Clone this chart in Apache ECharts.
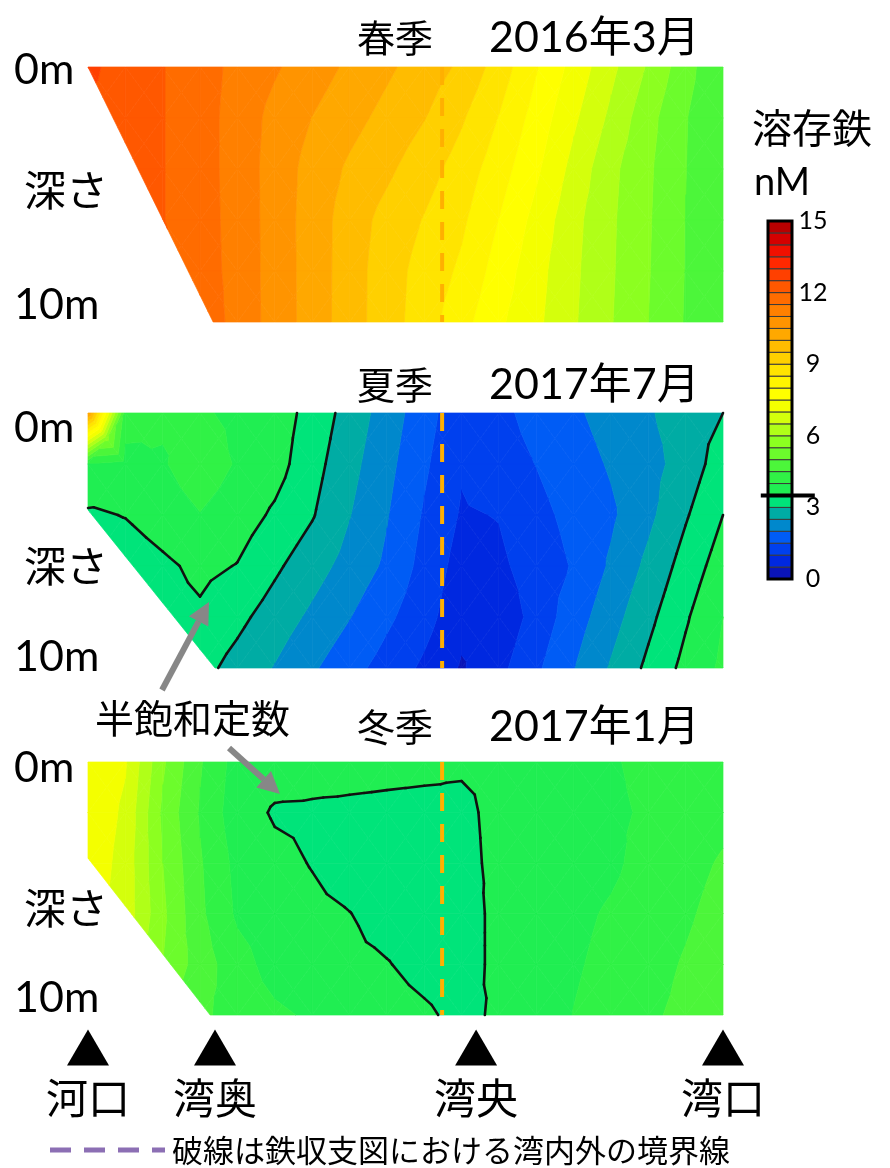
<!DOCTYPE html>
<html lang="ja">
<head>
<meta charset="utf-8">
<title>溶存鉄の鉛直断面</title>
<script src="https://cdn.jsdelivr.net/npm/echarts@6.0.0/dist/echarts.min.js"></script>
<style>
  html, body { margin: 0; padding: 0; background: #fff; }
  #chart { width: 890px; height: 1168px; }
</style>
</head>
<body>
<div id="chart"></div>
<script>
// Along-bay grid positions (河口 = 0 … 湾口 = 17) and sampling depths in metres
const distance = [0, 1, 2, 3, 4, 5, 6, 7, 8, 9, 10, 11, 12, 13, 14, 15, 16, 17];
const depth = [0, 2, 4, 6, 8, 10];

// Dissolved iron (nM), one row per depth, one value per grid position
const springFe = [
  [12.6, 12.31, 12.02, 11.69, 11.38, 11.06, 10.74, 10.41, 10.09, 9.77, 9.41, 8.77, 8.04, 7.33, 6.63, 5.94, 5.2, 4.5],
  [12.4, 12.34, 12.02, 11.7, 11.31, 10.84, 10.49, 10.17, 9.85, 9.52, 9.06, 8.48, 7.8, 7.09, 6.39, 5.67, 5.03, 4.5],
  [12.4, 12.35, 12.02, 11.7, 11.31, 10.78, 10.32, 9.92, 9.6, 9.21, 8.78, 8.23, 7.59, 6.84, 6.13, 5.58, 5.01, 4.5],
  [12.4, 12.35, 12.02, 11.7, 11.33, 10.78, 10.28, 9.76, 9.33, 8.97, 8.59, 7.99, 7.34, 6.65, 6.08, 5.55, 4.99, 4.5],
  [12.4, 12.35, 12.2, 11.72, 11.34, 10.78, 10.29, 9.74, 9.23, 8.81, 8.41, 7.78, 7.18, 6.6, 6.06, 5.53, 4.98, 4.5],
  [12.4, 12.35, 12.2, 11.8, 11.35, 10.79, 10.29, 9.73, 9.23, 8.74, 8.18, 7.59, 7.11, 6.56, 6.03, 5.5, 4.96, 4.5]
];
const summerFe = [
  [10.5, 4.3, 4.08, 4.06, 3.9, 3.75, 3.33, 2.8, 2.27, 1.71, 1.15, 1.39, 1.65, 1.92, 2.19, 2.45, 2.73, 3.0],
  [4.0, 3.8, 3.95, 4.3, 3.95, 3.7, 3.19, 2.66, 2.15, 1.58, 1.05, 1.3, 1.51, 1.78, 2.05, 2.32, 2.71, 3.26],
  [3.42, 3.52, 3.75, 3.98, 3.75, 3.42, 3.04, 2.52, 2.03, 1.45, 0.95, 1.02, 1.36, 1.64, 1.92, 2.38, 2.95, 3.5],
  [3.2, 3.2, 3.4, 3.62, 3.48, 3.09, 2.71, 2.32, 1.91, 1.33, 0.8, 0.9, 1.23, 1.54, 2.07, 2.62, 3.2, 3.75],
  [3.2, 3.2, 3.3, 3.42, 3.13, 2.77, 2.4, 2.02, 1.6, 1.19, 0.65, 0.63, 1.19, 1.76, 2.3, 2.87, 3.44, 4.0],
  [3.2, 3.2, 3.25, 3.17, 2.82, 2.47, 2.07, 1.68, 1.3, 0.91, 0.45, 0.86, 1.41, 1.98, 2.55, 3.11, 3.64, 4.1]
];
const winterFe = [
  [7.4, 7.05, 5.58, 4.55, 3.78, 3.7, 3.65, 3.62, 3.6, 3.58, 3.55, 3.57, 3.65, 3.78, 3.96, 4.1, 4.2, 4.35],
  [7.4, 6.9, 5.4, 4.45, 3.7, 3.453, 3.445, 3.435, 3.42, 3.41, 3.417, 3.6, 3.66, 3.75, 3.93, 4.05, 4.15, 4.35],
  [7.35, 6.8, 5.5, 4.55, 3.85, 3.62, 3.48, 3.3, 3.24, 3.22, 3.38, 3.6, 3.7, 3.8, 3.92, 4.15, 4.32, 4.56],
  [7.2, 6.8, 5.6, 4.6, 3.92, 3.72, 3.6, 3.51, 3.35, 3.28, 3.3, 3.62, 3.78, 3.9, 4.05, 4.2, 4.42, 4.7],
  [7.0, 6.5, 5.5, 4.75, 4.2, 3.8, 3.65, 3.58, 3.52, 3.38, 3.3, 3.62, 3.82, 3.95, 4.12, 4.3, 4.55, 4.8],
  [6.8, 6.0, 5.0, 4.6, 4.3, 4.09, 3.93, 3.8, 3.65, 3.56, 3.4, 3.56, 3.75, 4.01, 4.18, 4.42, 4.62, 4.85]
];

// Water-column outline of each section: [distance, depth] corners
const springSection = [[0, 0], [17, 0], [17, 10], [3.35, 10]];
const summerSection = [[0, 0], [17, 0], [17, 10], [3.4, 10], [0, 3.8]];
const winterSection = [[0, 0], [17, 0], [17, 10], [3.27, 10], [0, 3.8]];

const seasonTitles = ['春季', '夏季', '冬季'];
const seasonDates = ['2016年3月', '2017年7月', '2017年1月'];

const stationNames = ['河口', '湾奥', '湾央', '湾口'];
const stationPos = [0, 3.4, 10.39, 17];

// Inner/outer bay boundary used in the iron budget
const boundaryPos = 9.48;

// Colour classes, 0.5 nM wide
const bandEdges = [0, 0.5, 1, 1.5, 2, 2.5, 3, 3.5, 4, 4.5, 5, 5.5, 6, 6.5, 7, 7.5,
  8, 8.5, 9, 9.5, 10, 10.5, 11, 11.5, 12, 12.5, 13, 13.5, 14, 14.5, 15];
const bandColors = ['#0a14b8', '#0028e0', '#0040ee', '#005cf5', '#0088cc', '#00aca4',
  '#00e47a', '#20ee52', '#30f246', '#4cf63a', '#6cfc2c', '#8cff20', '#b0ff18', '#d4ff0c',
  '#f4ff00', '#ffff00', '#fff400', '#ffe400', '#ffd000', '#ffbc00', '#ffa800', '#ff9400',
  '#ff8000', '#ff6c00', '#ff5800', '#ff4000', '#ff2800', '#f01000', '#d40000', '#b80000'];
const colorbarTicks = [0, 3, 6, 9, 12, 15];

// Half-saturation contours (nM)
const halfSatLines = [3.0, 3.5];

const FONT = 'Lato, "Noto Sans CJK JP", sans-serif';
const JP = '"Noto Sans CJK JP", sans-serif';

// ---- contouring helpers (linear interpolation on triangles) ----
function clipPoly(poly, f) {
  const out = [];
  for (let i = 0; i < poly.length; i++) {
    const a = poly[i], b = poly[(i + 1) % poly.length];
    const fa = f(a), fb = f(b);
    if (fa >= 0) out.push(a);
    if ((fa >= 0) !== (fb >= 0)) {
      const t = fa / (fa - fb);
      out.push({ x: a.x + t * (b.x - a.x), y: a.y + t * (b.y - a.y), v: a.v + t * (b.v - a.v) });
    }
  }
  return out;
}
function polyArea(p) {
  let s = 0;
  for (let i = 0; i < p.length; i++) {
    const a = p[i], b = p[(i + 1) % p.length];
    s += a.x * b.y - b.x * a.y;
  }
  return s / 2;
}
function halfPlanes(outline) {
  let s = 0;
  for (let i = 0; i < outline.length; i++) {
    const a = outline[i], b = outline[(i + 1) % outline.length];
    s += a[0] * b[1] - b[0] * a[1];
  }
  const sign = s > 0 ? 1 : -1;
  return outline.map((P, n) => {
    const Q = outline[(n + 1) % outline.length];
    return p => sign * ((Q[0] - P[0]) * (p.y - P[1]) - (Q[1] - P[1]) * (p.x - P[0]));
  });
}

function buildSection(field, outline, api) {
  const planes = halfPlanes(outline);
  const fills = [], strokes = [];
  const px = p => api.coord([p.x, p.y]);
  for (let j = 0; j < depth.length - 1; j++) {
    for (let i = 0; i < distance.length - 1; i++) {
      const A = { x: distance[i], y: depth[j], v: field[j][i] };
      const B = { x: distance[i + 1], y: depth[j], v: field[j][i + 1] };
      const C = { x: distance[i + 1], y: depth[j + 1], v: field[j + 1][i + 1] };
      const D = { x: distance[i], y: depth[j + 1], v: field[j + 1][i] };
      const M = { x: (A.x + B.x) / 2, y: (A.y + D.y) / 2, v: (A.v + B.v + C.v + D.v) / 4 };
      [[A, B, M], [B, C, M], [C, D, M], [D, A, M]].forEach(tri => {
        let P = tri;
        for (const f of planes) { if (P.length >= 3) P = clipPoly(P, f); }
        if (P.length < 3 || Math.abs(polyArea(P)) < 1e-9) return;
        let lo = Infinity, hi = -Infinity;
        P.forEach(p => { lo = Math.min(lo, p.v); hi = Math.max(hi, p.v); });
        for (let k = 0; k < bandColors.length; k++) {
          const a = bandEdges[k], b = bandEdges[k + 1];
          if (b <= lo || a >= hi) {
            if (!(lo === hi && lo >= a && lo < b)) continue;
          }
          let Q = clipPoly(P, p => p.v - a);
          if (Q.length >= 3) Q = clipPoly(Q, p => b - p.v);
          if (Q.length < 3 || Math.abs(polyArea(Q)) < 1e-9) continue;
          fills.push({
            type: 'polygon', silent: true,
            shape: { points: Q.map(px) },
            style: { fill: bandColors[k], stroke: bandColors[k], lineWidth: 0.7 }
          });
        }
        halfSatLines.forEach(L => {
          if (L <= lo || L >= hi) return;
          const pts = [];
          for (let n = 0; n < P.length; n++) {
            const a = P[n], b = P[(n + 1) % P.length];
            const fa = a.v - L, fb = b.v - L;
            if ((fa >= 0) !== (fb >= 0)) {
              const t = fa / (fa - fb);
              pts.push(px({ x: a.x + t * (b.x - a.x), y: a.y + t * (b.y - a.y) }));
            }
          }
          if (pts.length === 2) {
            strokes.push({
              type: 'line', silent: true,
              shape: { x1: pts[0][0], y1: pts[0][1], x2: pts[1][0], y2: pts[1][1] },
              style: { stroke: '#111', lineWidth: 2.6, lineCap: 'round' }
            });
          }
        });
      });
    }
  }
  return fills.concat(strokes);
}

// ---- layout ----
const panelTop = [67, 413, 762];
const panelHeight = [255, 255, 253];
const sections = [
  { field: springFe, outline: springSection },
  { field: summerFe, outline: summerSection },
  { field: winterFe, outline: winterSection }
];

const grids = [], xAxes = [], yAxes = [], series = [];
sections.forEach((s, k) => {
  grids.push({ left: 88, top: panelTop[k], width: 635, height: panelHeight[k] });
  xAxes.push({ gridIndex: k, type: 'value', min: 0, max: 17, show: false });
  yAxes.push({ gridIndex: k, type: 'value', min: 0, max: 10, inverse: true, show: false });
  series.push({
    type: 'custom', xAxisIndex: k, yAxisIndex: k, data: [[0, 0]], clip: false, silent: true, z: 2,
    renderItem: (params, api) => ({ type: 'group', children: buildSection(s.field, s.outline, api) })
  });
  series.push({
    type: 'line', xAxisIndex: k, yAxisIndex: k, z: 4, silent: true, symbol: 'none',
    data: [[boundaryPos, 0], [boundaryPos, 10]],
    lineStyle: { color: '#ffb000', width: 4, type: [18, 13] }
  });
});

// station markers
grids.push({ left: 88, top: 1030, width: 635, height: 35 });
xAxes.push({ gridIndex: 3, type: 'value', min: 0, max: 17, show: false });
yAxes.push({ gridIndex: 3, type: 'value', min: -1, max: 1, show: false });
series.push({
  type: 'scatter', xAxisIndex: 3, yAxisIndex: 3, silent: true,
  symbol: 'triangle', symbolSize: [42, 36],
  itemStyle: { color: '#000', opacity: 1 },
  data: stationNames.map((n, i) => ({ name: n, value: [stationPos[i], 0] })),
  label: {
    show: true, position: 'bottom', distance: 12, formatter: '{b}',
    fontSize: 42, fontFamily: JP, color: '#000'
  }
});

// colour bar
grids.push({ left: 768, top: 221, width: 24, height: 358 });
xAxes.push({ gridIndex: 4, type: 'value', min: 0, max: 1, show: false });
yAxes.push({
  gridIndex: 4, type: 'value', min: 0, max: 15, interval: 3, position: 'right',
  axisLine: { show: false }, axisTick: { show: false }, splitLine: { show: false },
  axisLabel: {
    fontSize: 25, fontFamily: FONT, color: '#000', margin: 21, align: 'center',
    customValues: colorbarTicks
  }
});
series.push({
  type: 'custom', xAxisIndex: 4, yAxisIndex: 4, silent: true, clip: false, z: 2,
  data: bandColors.map((c, k) => [0.5, (bandEdges[k] + bandEdges[k + 1]) / 2]),
  renderItem: (params, api) => {
    const k = params.dataIndex;
    const p0 = api.coord([0, bandEdges[k]]);
    const p1 = api.coord([1, bandEdges[k + 1]]);
    return {
      type: 'rect',
      shape: { x: p0[0], y: p1[1], width: p1[0] - p0[0], height: p0[1] - p1[1] },
      style: { fill: bandColors[k], stroke: '#3a3a3a', lineWidth: 1 }
    };
  }
});
series.push({
  type: 'custom', xAxisIndex: 4, yAxisIndex: 4, silent: true, clip: false, z: 3,
  data: [[0, 0]],
  renderItem: (params, api) => {
    const a = api.coord([0, 0]);
    const b = api.coord([1, 15]);
    const m0 = api.coord([-0.3, halfSatLines[1]]);
    const m1 = api.coord([1.95, halfSatLines[1]]);
    return {
      type: 'group', children: [
        { type: 'rect', shape: { x: a[0], y: b[1], width: b[0] - a[0], height: a[1] - b[1] },
          style: { fill: 'none', stroke: '#000', lineWidth: 3 } },
        { type: 'line', shape: { x1: m0[0], y1: m0[1], x2: m1[0], y2: m1[1] },
          style: { stroke: '#000', lineWidth: 4 } }
      ]
    };
  }
});

// ---- text and annotations ----
function txt(x, y, s, size, family) {
  return {
    type: 'text', x: x, y: y, silent: true, z: 100,
    style: { text: s, fontSize: size, fontFamily: family || FONT, fill: '#000',
      verticalAlign: 'middle', align: 'left' }
  };
}
function arrow(x1, y1, x2, y2) {
  const len = Math.hypot(x2 - x1, y2 - y1);
  const ux = (x2 - x1) / len, uy = (y2 - y1) / len;
  const hl = 22, hw = 11;
  const bx = x2 - ux * hl, by = y2 - uy * hl;
  const nx = -uy, ny = ux;
  return {
    type: 'group', silent: true, z: 100, children: [
      { type: 'line', z: 100, shape: { x1: x1, y1: y1, x2: bx, y2: by }, style: { stroke: '#878787', lineWidth: 6 } },
      { type: 'polygon', z: 100, shape: { points: [[x2, y2], [bx + nx * hw, by + ny * hw], [bx - nx * hw, by - ny * hw]] },
        style: { fill: '#878787' } }
    ]
  };
}

const titleY = [38, 385, 727];
const zeroY = [70, 428, 768];
const depthWordY = [190, 566, 908];
const tenY = [305, 657, 998];

const graphics = [];
for (let k = 0; k < 3; k++) {
  graphics.push(txt(357, titleY[k], seasonTitles[k], 38, JP));
  graphics.push(txt(489, titleY[k], seasonDates[k], 43));
  graphics.push(txt(14, zeroY[k], '0m', 43));
  graphics.push(txt(24, depthWordY[k], '深さ', 42, JP));
  graphics.push(txt(14, tenY[k], '10m', 43));
}
graphics.push(txt(752, 128, '溶存鉄', 40, JP));
graphics.push(txt(754, 183, 'nM', 38));
graphics.push(txt(95, 718, '半飽和定数', 39, JP));
graphics.push(arrow(162, 690, 209, 602));
graphics.push(arrow(229, 748, 280, 794));
graphics.push({
  type: 'line', silent: true, z: 100,
  shape: { x1: 50, y1: 1150, x2: 165, y2: 1150 },
  style: { stroke: '#8c6fb4', lineWidth: 5, lineDash: [21, 13] }
});
graphics.push(txt(172, 1150, '破線は鉄収支図における湾内外の境界線', 31, JP));

const chart = echarts.init(document.getElementById('chart'), null, { renderer: 'canvas' });
chart.setOption({
  animation: false,
  backgroundColor: '#fff',
  grid: grids,
  xAxis: xAxes,
  yAxis: yAxes,
  series: series,
  graphic: { elements: graphics }
});
</script>
</body>
</html>
